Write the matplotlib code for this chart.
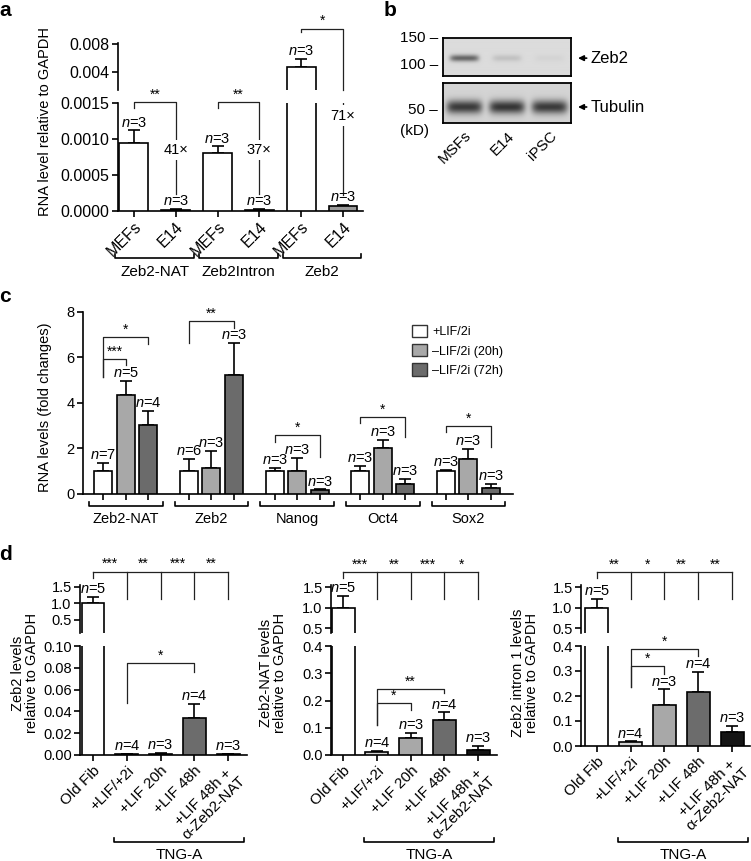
import numpy as np
import matplotlib
matplotlib.use("Agg")
import matplotlib.pyplot as plt
from matplotlib.patches import Patch

plt.rcParams['font.family'] = ['Liberation Sans', 'DejaVu Sans']
plt.rcParams['mathtext.fontset'] = 'custom'
plt.rcParams['mathtext.it'] = 'Liberation Sans:italic'
plt.rcParams['mathtext.rm'] = 'Liberation Sans'
plt.rcParams['font.size'] = 10
plt.rcParams['axes.linewidth'] = 1.2

# ---- panel a: qPCR MEFs vs E14
a_groups = ['Zeb2-NAT', 'Zeb2Intron', 'Zeb2']
a_cells = ['MEFs', 'E14', 'MEFs', 'E14', 'MEFs', 'E14']
a_vals = [0.00095, 0.00002, 0.00080, 0.00002, 0.0047, 0.00007]
a_err = [0.00017, 0.000006, 0.00010, 0.000006, 0.00115, 0.00002]
a_n = [3, 3, 3, 3, 3, 3]
a_fold = ['41×', '37×', '71×']
a_sig = ['**', '**', '*']

# ---- panel b: western blot
b_lanes = ['MSFs', 'E14', 'iPSC']
b_markers = ['150', '100', '50']
b_zeb2_band = [0.46, 0.10, 0.03]
b_tub_band = [0.60, 0.62, 0.60]

# ---- panel c: fold changes after LIF/2i withdrawal
c_genes = ['Zeb2-NAT', 'Zeb2', 'Nanog', 'Oct4', 'Sox2']
c_conditions = ['+LIF/2i', '–LIF/2i (20h)', '–LIF/2i (72h)']
c_lif = [1.0, 1.0, 1.0, 1.0, 1.0]
c_lif_err = [0.36, 0.54, 0.14, 0.23, 0.07]
c_20h = [4.35, 1.14, 1.02, 2.02, 1.52]
c_20h_err = [0.62, 0.75, 0.56, 0.35, 0.46]
c_72h = [3.03, 5.23, 0.17, 0.44, 0.28]
c_72h_err = [0.62, 1.41, 0.04, 0.22, 0.16]
c_n = [[7, 5, 4], [6, 3, 3], [3, 3, 3], [3, 3, 3], [3, 3, 3]]

# ---- panel d: TNG-A reprogramming
d_conditions = ['Old Fib', '+LIF/+2i', '+LIF 20h', '+LIF 48h', '+LIF 48h +\nα-Zeb2-NAT']
d_n = [5, 4, 3, 4, 3]
d_zeb2 = [1.0, 0.0006, 0.0012, 0.034, 0.0006]
d_zeb2_err = [0.20, 0.0003, 0.0005, 0.013, 0.0003]
d_nat = [1.0, 0.010, 0.062, 0.130, 0.020]
d_nat_err = [0.28, 0.006, 0.020, 0.026, 0.013]
d_intron = [1.0, 0.015, 0.165, 0.218, 0.056]
d_intron_err = [0.22, 0.004, 0.062, 0.080, 0.024]
d_sig_zeb2 = ['***', '**', '***', '**']
d_sig_nat = ['***', '**', '***', '*']
d_sig_intron = ['**', '*', '**', '**']

W, H = 751, 861
fig = plt.figure(figsize=(W / 100, H / 100), dpi=100)


def box(x0, y0, x1, y1):
    # axes from a pixel box (origin top-left)
    return fig.add_axes([x0 / W, 1 - y1 / H, (x1 - x0) / W, (y1 - y0) / H])


def style(ax, bottom=True, size=10.5):
    ax.spines['top'].set_visible(False)
    ax.spines['right'].set_visible(False)
    ax.patch.set_alpha(0)
    ax.tick_params(direction='out', length=4, width=1.2, labelsize=size, pad=2)
    if not bottom:
        ax.spines['bottom'].set_visible(False)
        ax.tick_params(axis='x', bottom=False, labelbottom=False)


def draw_bars(axes, x, vals, errs, colors, width):
    for ax in axes:
        ax.bar(x, vals, width, color=colors, edgecolor='black', linewidth=1.2, zorder=3)
        ax.errorbar(x, vals, yerr=[np.zeros(len(vals)), errs], fmt='none', ecolor='black',
                    elinewidth=1.2, capsize=4, capthick=1.2, zorder=2)


def n_labels(ax_low, ax_top, x, vals, errs, ns):
    lim = ax_low.get_ylim()[1]
    for xi, v, e, n in zip(x, vals, errs, ns):
        ax = ax_top if (ax_top is not None and v + e > lim) else ax_low
        ax.annotate(f'$n$={n}', (xi, v + e), xytext=(0, 0.5), textcoords='offset points',
                    ha='center', va='bottom', fontsize=10.5, zorder=5, annotation_clip=False)


def bracket(ax, x1, x2, y, y1, y2, label):
    ax.plot([x1, x1, x2, x2], [y1, y, y, y2], color='#222222', lw=0.9, clip_on=False, zorder=4)
    ax.annotate(label, ((x1 + x2) / 2, y), xytext=(0, 0.5), textcoords='offset points',
                ha='center', va='bottom', fontsize=10, annotation_clip=False)


def group_bracket(ax, x1, x2, y, tick, label, label_y, size=10.5):
    tr = ax.get_xaxis_transform()
    ax.plot([x1, x1, x2, x2], [y + tick, y, y, y + tick], transform=tr, color='black',
            lw=1.2, clip_on=False)
    ax.text((x1 + x2) / 2, label_y, label, transform=tr, ha='center', va='center', fontsize=size)


# ================= panel a =================
xa = np.arange(len(a_vals))
a_colors = ['white', '#9a9a9a'] * 3
ax_al = box(118, 103, 363, 211)
ax_at = box(118, 43, 363, 90)
for ax in (ax_al, ax_at):
    ax.set_xlim(-0.38, 5.48)
style(ax_al, size=11.5)
style(ax_at, bottom=False, size=11.5)
ax_al.set_ylim(0, 0.0015)
ax_at.set_ylim(0.00142, 0.0081)
ax_al.set_yticks([0, 0.0005, 0.0010, 0.0015], ['0.0000', '0.0005', '0.0010', '0.0015'])
ax_at.set_yticks([0.004, 0.008], ['0.004', '0.008'])
draw_bars([ax_al, ax_at], xa, a_vals, a_err, a_colors, 0.69)
n_labels(ax_al, ax_at, xa, a_vals, a_err, a_n)
ax_al.set_xticks(xa, a_cells, rotation=45, ha='right', rotation_mode='anchor')
for g, name in enumerate(a_groups):
    group_bracket(ax_al, 2 * g + 0.5 - 0.94, 2 * g + 0.5 + 0.94, -0.435, 0.037, name, -0.565,
                  size=11)

# significance brackets with fold changes
for g in range(2):
    x1, x2 = 2 * g, 2 * g + 1
    ax_al.plot([x1, x1, x2, x2], [0.00143, 0.00151, 0.00151, 0.00023],
               color='#222222', lw=0.9, clip_on=False, zorder=4)
    ax_al.annotate(a_sig[g], (x1 + 0.5, 0.00151), xytext=(0, 0.5), textcoords='offset points',
                   ha='center', va='bottom', annotation_clip=False)
    ax_al.text(x2, 0.00085, a_fold[g], ha='center', va='center', zorder=5, fontsize=10.5,
               bbox=dict(fc='white', ec='none', pad=2))
ax_at.plot([4, 4, 5, 5], [0.0097, 0.0101, 0.0101, 0.00142], color='#222222', lw=0.9,
           clip_on=False, zorder=4)
ax_at.annotate(a_sig[2], (4.5, 0.0101), xytext=(0, 0.5), textcoords='offset points',
               ha='center', va='bottom', annotation_clip=False)
ax_al.plot([5, 5], [0.0015, 0.00022], color='#222222', lw=0.9, zorder=4)
ax_al.text(5, 0.00132, a_fold[2], ha='center', va='center', zorder=5, fontsize=10.5,
           bbox=dict(fc='white', ec='none', pad=2.5))
fig.text(45 / W, 1 - 121 / H, 'RNA level relative to GAPDH', rotation=90,
         ha='center', va='center', fontsize=10.5)

# ================= panel b =================
ax_b1 = box(443, 38, 571, 76)
ax_b2 = box(443, 83, 571, 123)
gx = np.linspace(0, 3, 384)
gy = np.linspace(0, 1, 120)
GX, GY = np.meshgrid(gx, gy)


def blot(ax, bands, yc, half_h, half_w, bg):
    img = np.full(GX.shape, bg)
    for i, s in enumerate(bands):
        img -= s * np.exp(-((GX - (i + 0.5)) / half_w) ** 6) * np.exp(-((GY - yc) / half_h) ** 2)
    ax.imshow(img, cmap='gray', vmin=0, vmax=1, extent=(0, 3, 0, 1), origin='upper', aspect='auto')
    ax.set_xlim(0, 3)
    ax.set_ylim(0, 1)
    for s in ax.spines.values():
        s.set_linewidth(1.3)
    ax.tick_params(left=False, labelleft=False, bottom=False, labelbottom=False)


blot(ax_b1, b_zeb2_band, 0.53, 0.09, 0.34, 0.86)
blot(ax_b2, b_tub_band, 0.60, 0.17, 0.42, 0.83)
mk = dict(ha='right', va='center', fontsize=11)
ax_b1.text(-0.04, 1.0, b_markers[0] + ' –', transform=ax_b1.transAxes, **mk)
ax_b1.text(-0.04, 0.29, b_markers[1] + ' –', transform=ax_b1.transAxes, **mk)
ax_b2.text(-0.04, 0.33, b_markers[2] + ' –', transform=ax_b2.transAxes, **mk)
fig.text(400 / W, 1 - 131 / H, '(kD)', ha='left', va='center', fontsize=11)
ax_b2.tick_params(bottom=True, labelbottom=True, length=0, pad=4)
ax_b2.set_xticks([0.5, 1.5, 2.5], b_lanes, rotation=45, ha='right', rotation_mode='anchor', fontsize=11)
for ax, name, yy in ((ax_b1, 'Zeb2', 0.47), (ax_b2, 'Tubulin', 0.40)):
    ax.annotate(name, xy=(1.055, yy), xytext=(1.155, yy), xycoords='axes fraction',
                ha='left', va='center', fontsize=12,
                arrowprops=dict(arrowstyle='-|>', color='black', lw=1.2, shrinkA=1, shrinkB=0,
                                mutation_scale=8))

# ================= panel c =================
ax_c = box(83, 312, 513, 494)
style(ax_c)
ax_c.set_xlim(-0.50, 4.52)
ax_c.set_ylim(0, 8)
ax_c.set_yticks([0, 2, 4, 6, 8])
c_colors = ['white', '#a8a8a8', '#6b6b6b']
xg = np.arange(len(c_genes))
offs = [-0.262, 0, 0.262]
c_series = [(c_lif, c_lif_err), (c_20h, c_20h_err), (c_72h, c_72h_err)]
for k, (vals, errs) in enumerate(c_series):
    draw_bars([ax_c], xg + offs[k], vals, errs, c_colors[k], 0.21)
    n_labels(ax_c, None, xg + offs[k], vals, errs, [row[k] for row in c_n])
ax_c.set_xticks(np.concatenate([xg + o for o in offs]))
ax_c.tick_params(axis='x', labelbottom=False)
for g, name in enumerate(c_genes):
    group_bracket(ax_c, g - 0.43, g + 0.43, -0.066, 0.022, name, -0.135)
# significance brackets (gene, bar1, bar2, height, left leg end, right leg end, label)
c_brackets = [(0, 0, 1, 5.93, 5.14, 5.67, '***'), (0, 0, 2, 6.90, 5.14, 6.60, '*'),
              (1, 0, 2, 7.60, 6.64, 7.30, '**'), (2, 0, 2, 2.59, 2.28, 1.63, '*'),
              (3, 0, 2, 3.38, 3.12, 2.50, '*'), (4, 0, 2, 2.99, 2.72, 2.07, '*')]
for g, i1, i2, yb, y1, y2, lab in c_brackets:
    bracket(ax_c, g + offs[i1], g + offs[i2], yb, y1, y2, lab)
handles = [Patch(facecolor=c, edgecolor='#333333', linewidth=1.0, label=l)
           for c, l in zip(c_colors, c_conditions)]
ax_c.legend(handles=handles, loc='upper left', bbox_to_anchor=(412 / W, 1 - 325 / H),
            bbox_transform=fig.transFigure, frameon=False, fontsize=9, handlelength=1.2,
            handleheight=1.15, handletextpad=0.4, labelspacing=0.45, borderpad=0, borderaxespad=0)
fig.text(45 / W, 1 - 407 / H, 'RNA levels (fold changes)', rotation=90, ha='center', va='center',
         fontsize=10.5)

# ================= panel d =================
d_colors = ['white', '#d2d2d2', '#a8a8a8', '#6c6c6c', '#141414']
xd = np.arange(len(d_conditions))
d_panels = [
    dict(vals=d_zeb2, errs=d_zeb2_err, sig=d_sig_zeb2, x0=80, x1=247, xl=(-0.385, 4.56),
         low=(646, 755), lowlim=(0, 0.1), lowticks=[0, 0.02, 0.04, 0.06, 0.08, 0.10],
         lowfmt='{:.2f}', toplim=(0.106, 1.56), topy=(1.955, 1.77, 1.136),
         ylabel='Zeb2 levels\nrelative to GAPDH', ylx=25,
         low_br=[(1, 3, 0.0844, 0.048, 0.076, '*')]),
    dict(vals=d_nat, errs=d_nat_err, sig=d_sig_nat, x0=331, x1=497, xl=(-0.36, 4.56),
         low=(646, 755), lowlim=(0, 0.4), lowticks=[0, 0.1, 0.2, 0.3, 0.4],
         lowfmt='{:.1f}', toplim=(0.38, 1.55), topy=(1.866, 1.72, 1.207),
         ylabel='Zeb2-NAT levels\nrelative to GAPDH', ylx=273,
         low_br=[(1, 3, 0.242, 0.11, 0.228, '**'), (1, 2, 0.19, 0.11, 0.165, '*')]),
    dict(vals=d_intron, errs=d_intron_err, sig=d_sig_intron, x0=581, x1=750, xl=(-0.47, 4.53),
         low=(646, 746), lowlim=(0, 0.4), lowticks=[0, 0.1, 0.2, 0.3, 0.4],
         lowfmt='{:.1f}', toplim=(0.38, 1.55), topy=(1.866, 1.72, 1.207),
         ylabel='Zeb2 intron 1 levels\nrelative to GAPDH', ylx=525,
         low_br=[(1, 3, 0.388, 0.236, 0.36, '*'), (1, 2, 0.32, 0.236, 0.29, '*')]),
]
for p in d_panels:
    ax_l = box(p['x0'], p['low'][0], p['x1'], p['low'][1])
    ax_t = box(p['x0'], 585, p['x1'], 633)
    style(ax_l)
    style(ax_t, bottom=False)
    for ax in (ax_l, ax_t):
        ax.set_xlim(*p['xl'])
    ax_l.set_ylim(*p['lowlim'])
    ax_t.set_ylim(*p['toplim'])
    ax_l.set_yticks(p['lowticks'], [p['lowfmt'].format(t) for t in p['lowticks']])
    ax_t.set_yticks([0.5, 1.0, 1.5], ['0.5', '1.0', '1.5'])
    draw_bars([ax_l, ax_t], xd, p['vals'], p['errs'], d_colors, 0.68)
    n_labels(ax_l, ax_t, xd, p['vals'], p['errs'], d_n)
    ax_l.set_xticks(xd, d_conditions, rotation=45, ha='right', rotation_mode='anchor',
                    multialignment='center', linespacing=1.0, fontsize=11)
    hpx = p['low'][1] - p['low'][0]
    group_bracket(ax_l, 0.62, 4.47, (p['low'][1] - 842) / hpx, 4 / hpx, 'TNG-A',
                  (p['low'][1] - 855) / hpx, size=11)
    # comparisons against old fibroblasts
    ytop, yold, yleg = p['topy']
    ax_t.plot([0, 0], [yold, ytop], color='#222222', lw=0.9, clip_on=False)
    ax_t.plot([0, xd[-1]], [ytop, ytop], color='#222222', lw=0.9, clip_on=False)
    for i in range(1, len(xd)):
        ax_t.plot([i, i], [ytop, yleg], color='#222222', lw=0.9, clip_on=False)
        ax_t.annotate(p['sig'][i - 1], (i - 0.5, ytop), xytext=(0, 0.5), textcoords='offset points',
                      ha='center', va='bottom', annotation_clip=False)
    for i1, i2, yb, y1, y2, lab in p['low_br']:
        bracket(ax_l, i1, i2, yb, y1, y2, lab)
    fig.text(p['ylx'] / W, 1 - 673 / H, p['ylabel'], rotation=90, ha='center', va='center',
             fontsize=10.5, linespacing=1.0)

# panel letters
for lab, (px, py) in zip('abcd', [(5, 11), (390, 11), (5, 297), (5, 555)]):
    fig.text(px / W, 1 - py / H, lab, fontsize=15, fontweight='bold', ha='center', va='center')

fig.savefig('out.png', dpi=100)
